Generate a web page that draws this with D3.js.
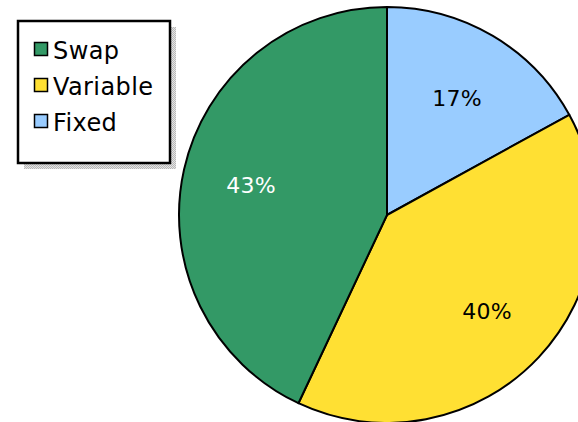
<!DOCTYPE html>
<html><head><meta charset="utf-8">
<script src="https://cdn.jsdelivr.net/npm/d3@7"></script>
<style>body{margin:0;background:#fff}svg{display:block}</style>
</head><body>
<script>
const categories = ["Fixed", "Variable", "Swap"];
const values = [17, 40, 43];
const colors = ["#99CCFF", "#FFE033", "#339966"];
const labelColors = ["#000", "#000", "#fff"];
const legendOrder = ["Swap", "Variable", "Fixed"];

const W = 578, H = 422;
const svg = d3.select("body").append("svg").attr("width", W).attr("height", H);
const font = "'DejaVu Sans', Verdana, sans-serif";

const cx = 387, cy = 215, R = 208;
const data = categories.map((c, i) => ({cat: c, value: values[i], color: colors[i], lc: labelColors[i]}));
const pie = d3.pie().value(d => d.value).sort(null);
const arc = d3.arc().innerRadius(0).outerRadius(R);
const arcs = pie(data);
const g = svg.append("g").attr("transform", `translate(${cx},${cy})`);
g.selectAll("path").data(arcs).join("path")
  .attr("d", arc).attr("fill", d => d.data.color)
  .attr("stroke", "#000").attr("stroke-width", 2).attr("stroke-linejoin", "round");

const labelPos = {Fixed: [457, 106], Variable: [487, 319], Swap: [251, 193]};
g.selectAll("text").data(arcs).join("text")
  .attr("x", d => labelPos[d.data.cat][0] - cx)
  .attr("y", d => labelPos[d.data.cat][1] - cy)
  .attr("text-anchor", "middle")
  .attr("font-family", font).attr("font-size", 22).attr("letter-spacing", 0.2)
  .attr("fill", d => d.data.lc)
  .text(d => d.data.value + "%");

// legend
const lx = 18, ly = 21, lw = 152, lh = 142;
const pat = svg.append("defs").append("pattern").attr("id", "dots")
  .attr("width", 2).attr("height", 2).attr("patternUnits", "userSpaceOnUse");
pat.append("rect").attr("width", 2).attr("height", 2).attr("fill", "#e4e4e4");
pat.append("rect").attr("width", 1).attr("height", 1).attr("fill", "#b8b8b8");
pat.append("rect").attr("x", 1).attr("y", 1).attr("width", 1).attr("height", 1).attr("fill", "#b8b8b8");
svg.append("rect").attr("x", lx + 6).attr("y", ly + 6).attr("width", lw).attr("height", lh).attr("fill", "url(#dots)");
svg.append("rect").attr("x", lx).attr("y", ly).attr("width", lw).attr("height", lh)
  .attr("fill", "#fff").attr("stroke", "#000").attr("stroke-width", 2.5);
const leg = svg.append("g");
legendOrder.forEach((c, i) => {
  const idx = categories.indexOf(c);
  const y = 59 + i * 36;
  leg.append("rect").attr("x", 34.5).attr("y", y - 16.5).attr("width", 13).attr("height", 13)
    .attr("fill", colors[idx]).attr("stroke", "#000").attr("stroke-width", 1.5);
  leg.append("text").attr("x", 53).attr("y", y)
    .attr("font-family", font).attr("font-size", 24).attr("letter-spacing", 0.4)
    .attr("fill", "#000").text(c);
});
</script>
</body></html>
